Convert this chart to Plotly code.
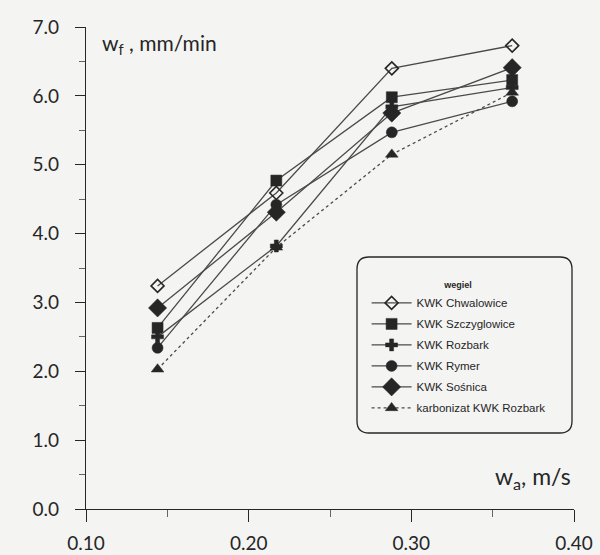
import plotly.graph_objects as go

# ---- data ----
wa = [0.144, 0.217, 0.288, 0.362]
series_names = ["KWK Chwalowice", "KWK Szczyglowice", "KWK Rozbark",
                "KWK Rymer", "KWK Sośnica", "karbonizat KWK Rozbark"]
chwalowice   = [3.24, 4.59, 6.40, 6.73]
szczyglowice = [2.63, 4.77, 5.98, 6.23]
rozbark      = [2.50, 3.82, 5.84, 6.12]
rymer        = [2.34, 4.42, 5.47, 5.92]
sosnica      = [2.92, 4.31, 5.75, 6.41]
karbonizat   = [2.03, 3.80, 5.15, 6.05]

x_ticks = [0.10, 0.20, 0.30, 0.40]
x_ticklabels = ["0.10", "0.20", "0.30", "0.40"]
y_ticks = [0, 1, 2, 3, 4, 5, 6, 7]
y_ticklabels = ["0.0", "1.0", "2.0", "3.0", "4.0", "5.0", "6.0", "7.0"]

values = [chwalowice, szczyglowice, rozbark, rymer, sosnica, karbonizat]
symbols = ["diamond-open", "square", "cross", "circle", "diamond", "triangle-up"]
sizes = [10, 11, 10, 11, 14, 11]
dashes = ["solid", "solid", "solid", "solid", "solid", "dot"]

INK = "#262626"
LINE = "#4a4a4a"
BG = "#f4f4f3"
FONT = "Lato"

fig = go.Figure()
for i, (name, vals, sym, sz, dsh) in enumerate(zip(series_names, values, symbols, sizes, dashes)):
    fig.add_trace(go.Scatter(
        x=wa, y=vals, name=name, mode="lines+markers", legendgroup=f"g{i}",
        line=dict(color=LINE, width=1.3, dash=dsh),
        marker=dict(symbol=sym, size=sz, color=INK,
                    line=dict(color=INK, width=1.6 if sym == "diamond-open" else 0.5)),
    ))

L, R, T, B = 86, 26, 27, 46
fig.update_layout(
    width=600, height=555,
    margin=dict(l=L, r=R, t=T, b=B, autoexpand=False),
    paper_bgcolor=BG, plot_bgcolor=BG,
    font=dict(family=FONT, color=INK),
    showlegend=True,
    legend=dict(
        x=0.575, y=0.482, xanchor="left", yanchor="top",
        bgcolor="rgba(0,0,0,0)", borderwidth=0,
        traceorder="grouped", tracegroupgap=2,
        font=dict(family="Liberation Sans", size=11.5, color=INK),
        title=dict(text="<b>wegiel</b>", side="top center",
                   font=dict(family="Liberation Sans", size=9, color=INK)),
        itemwidth=40,
    ),
    xaxis=dict(
        range=[0.10, 0.40], showgrid=False, zeroline=False, automargin=False,
        showline=True, linecolor=INK, linewidth=1.3,
        tickvals=x_ticks, ticktext=x_ticklabels,
        ticks="outside", ticklen=12, tickwidth=1.2, tickcolor=INK,
        ticklabelstandoff=5,
        tickfont=dict(family=FONT, size=19, color=INK),
        minor=dict(dtick=0.05, tick0=0.10, ticks="outside", ticklen=7,
                   tickwidth=1, tickcolor="#666"),
    ),
    yaxis=dict(
        range=[0, 7], showgrid=False, zeroline=False, automargin=False,
        showline=True, linecolor=INK, linewidth=1.3,
        tickvals=y_ticks, ticktext=y_ticklabels,
        ticks="outside", ticklen=10, tickwidth=1.2, tickcolor=INK,
        ticklabelstandoff=12,
        tickfont=dict(family=FONT, size=19, color=INK),
        minor=dict(dtick=0.5, ticks="outside", ticklen=6, tickwidth=1,
                   tickcolor="#666"),
    ),
)

# axis titles
fig.add_annotation(xref="paper", yref="paper", x=0.028, y=0.965,
                   xanchor="left", yanchor="middle", showarrow=False,
                   text="w<sub>f</sub> , mm/min",
                   font=dict(family=FONT, size=21, color=INK))
fig.add_annotation(xref="paper", yref="paper", x=0.997, y=0.03,
                   xanchor="right", yanchor="bottom", showarrow=False,
                   text="w<sub>a</sub>, m/s",
                   font=dict(family=FONT, size=23, color=INK))

# rounded legend frame (paper coordinates)
W, H = 600 - L - R, 555 - T - B
def px2paper(px, py):
    return (px - L) / W, (555 - B - py) / H
x0, y0 = px2paper(357, 433)
x1, y1 = px2paper(572, 257)
rx, ry = 12 / W, 12 / H
path = (f"M {x0+rx},{y1} L {x1-rx},{y1} Q {x1},{y1} {x1},{y1-ry} "
        f"L {x1},{y0+ry} Q {x1},{y0} {x1-rx},{y0} "
        f"L {x0+rx},{y0} Q {x0},{y0} {x0},{y0+ry} "
        f"L {x0},{y1-ry} Q {x0},{y1} {x0+rx},{y1} Z")
fig.add_shape(type="path", path=path, xref="paper", yref="paper",
              line=dict(color=INK, width=1.3), fillcolor="rgba(0,0,0,0)")

fig.write_html("out.html")
